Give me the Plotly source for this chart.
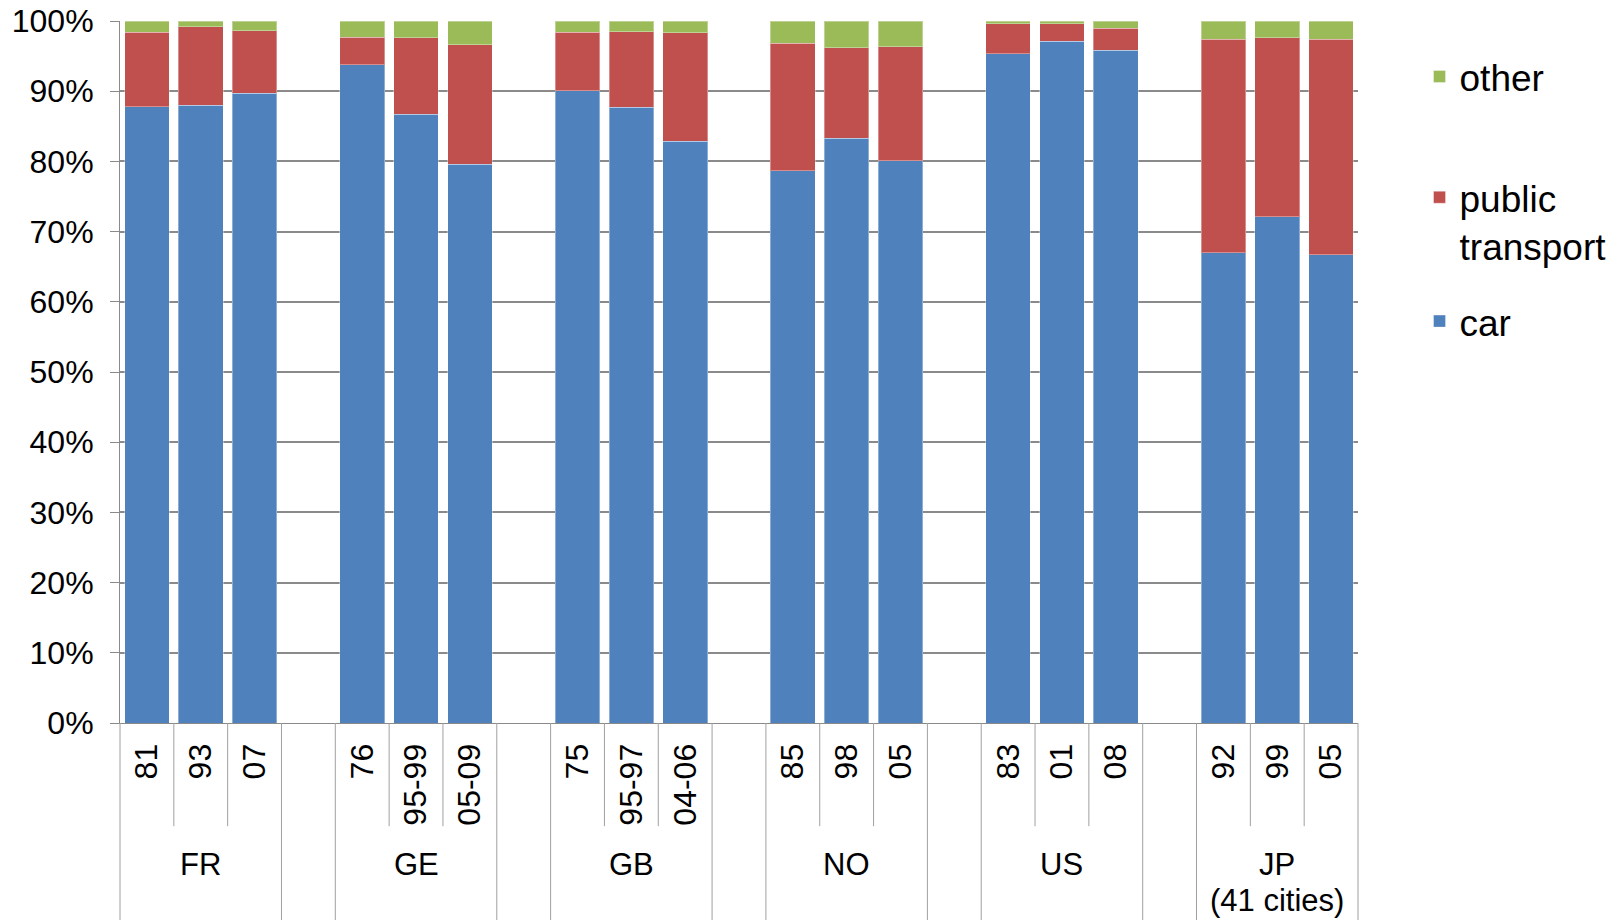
import plotly.graph_objects as go

# Mode share of trips (%), by country and survey year
countries = ["FR", "GE", "GB", "NO", "US", "JP"]
country_notes = ["", "", "", "", "", "(41 cities)"]
years = [
    ["81", "93", "07"],
    ["76", "95-99", "05-09"],
    ["75", "95-97", "04-06"],
    ["85", "98", "05"],
    ["83", "01", "08"],
    ["92", "99", "05"],
]
car = [
    [87.8, 88.0, 89.7],
    [93.8, 86.7, 79.6],
    [90.1, 87.7, 82.9],
    [78.7, 83.3, 80.1],
    [95.3, 97.1, 95.8],
    [67.0, 72.1, 66.7],
]
public_transport = [
    [10.6, 11.2, 8.9],
    [3.9, 10.9, 17.0],
    [8.3, 10.8, 15.4],
    [18.1, 12.9, 16.2],
    [4.3, 2.5, 3.2],
    [30.4, 25.5, 30.7],
]
other = [
    [1.6, 0.8, 1.4],
    [2.3, 2.4, 3.4],
    [1.6, 1.5, 1.7],
    [3.2, 3.8, 3.7],
    [0.4, 0.4, 1.0],
    [2.6, 2.4, 2.6],
]

FONT = "Arial, 'Liberation Sans', sans-serif"
GRID = "#8a8a8a"
DIV = "#a0a0a0"

# one slot per survey year plus an empty slot between countries
slot_per_group = 4
x_pos, x_text, car_v, pt_v, oth_v = [], [], [], [], []
for g, ys in enumerate(years):
    for i, y in enumerate(ys):
        x_pos.append(g * slot_per_group + i)
        x_text.append(y)
        car_v.append(car[g][i])
        pt_v.append(public_transport[g][i])
        oth_v.append(other[g][i])

x_min = -0.5
x_max = (len(countries) - 1) * slot_per_group + len(years[-1]) - 0.5
x_span = x_max - x_min

edge = dict(color="rgba(255,255,255,0.35)", width=1)
fig = go.Figure()
fig.add_trace(go.Bar(x=x_pos, y=car_v, name="car", marker=dict(color="#4F81BD", line=edge),
                     legend="legend"))
fig.add_trace(go.Bar(x=x_pos, y=pt_v, name="public<br>transport",
                     marker=dict(color="#C0504D", line=edge), legend="legend2"))
fig.add_trace(go.Bar(x=x_pos, y=oth_v, name="other", marker=dict(color="#9BBB59", line=edge),
                     legend="legend3"))

# category axis separators below the plot
short_y = -0.147
long_y = -0.30
def to_paper(v):
    return (v - x_min) / x_span

shapes = []
for g, ys in enumerate(years):
    start = g * slot_per_group
    for b in (start - 0.5, start + len(ys) - 0.5):
        shapes.append(dict(type="line", xref="paper", yref="paper", x0=to_paper(b), x1=to_paper(b),
                           y0=0, y1=long_y, line=dict(color=DIV, width=1)))
    for i in range(1, len(ys)):
        b = start + i - 0.5
        shapes.append(dict(type="line", xref="paper", yref="paper", x0=to_paper(b), x1=to_paper(b),
                           y0=0, y1=short_y, line=dict(color=DIV, width=1)))

annotations = []
label_font = dict(size=31, color="#000000", family=FONT)
for g, (name, note) in enumerate(zip(countries, country_notes)):
    center = g * slot_per_group + (len(years[g]) - 1) / 2
    annotations.append(dict(x=center, xref="x", y=-0.1745, yref="paper", text=name, showarrow=False,
                            xanchor="center", yanchor="top", font=label_font))
    if note:
        annotations.append(dict(x=center, xref="x", y=-0.2256, yref="paper", text=note, showarrow=False,
                                xanchor="center", yanchor="top", font=label_font))

legend_common = dict(font=dict(size=37, color="#000000", family=FONT), bgcolor="rgba(0,0,0,0)",
                     xanchor="left", yanchor="top", valign="top", x=1.0497)

fig.update_layout(
    barmode="stack",
    bargap=0.17,
    width=1618,
    height=920,
    showlegend=True,
    paper_bgcolor="white",
    plot_bgcolor="white",
    margin=dict(l=120, r=259.5, t=20.7, b=196.7, autoexpand=False),
    font=dict(family=FONT, size=32, color="#000000"),
    xaxis=dict(
        range=[x_min, x_max],
        tickmode="array",
        tickvals=x_pos,
        ticktext=x_text,
        tickangle=-90,
        ticks="",
        ticklabelstandoff=7,
        showgrid=False,
        zeroline=False,
        showline=True,
        linecolor=GRID,
        linewidth=1,
        tickfont=dict(size=32, family=FONT, color="#000000"),
    ),
    yaxis=dict(
        range=[0, 100],
        dtick=10,
        ticksuffix="%",
        showgrid=True,
        gridcolor=GRID,
        gridwidth=1.5,
        zeroline=False,
        showline=True,
        linecolor=GRID,
        linewidth=1,
        ticks="outside",
        ticklen=9,
        tickcolor=GRID,
        ticklabelstandoff=10,
        tickfont=dict(size=32, family=FONT, color="#000000"),
    ),
    legend=dict(y=0.616, **legend_common),
    legend2=dict(y=0.7925, **legend_common),
    legend3=dict(y=0.9645, **legend_common),
    shapes=shapes,
    annotations=annotations,
)

fig.write_html("out.html")
